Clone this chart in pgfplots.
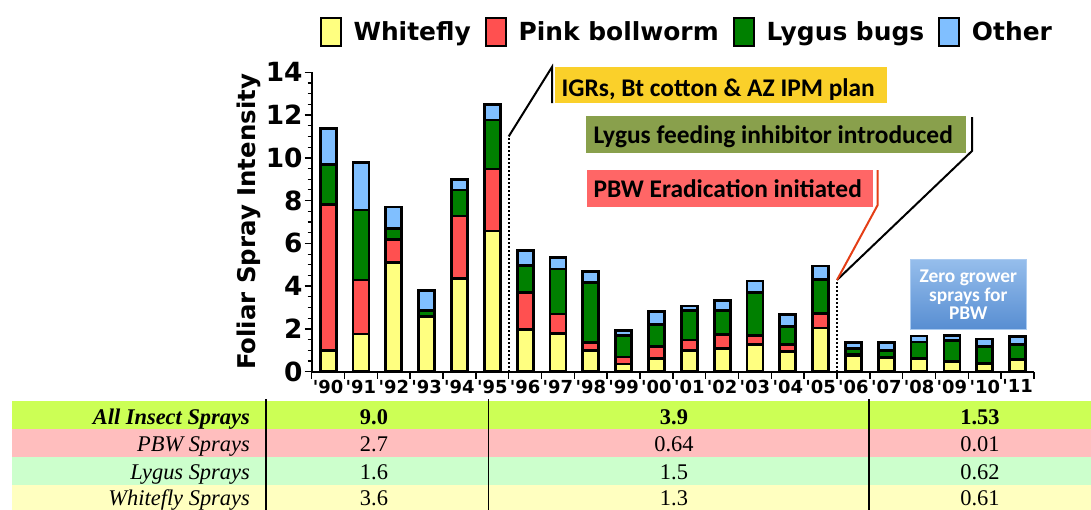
\documentclass[border=0pt]{standalone}
\usepackage{pgfplots}
\pgfplotsset{compat=1.18}
\usepackage{pgfplotstable}
\usepackage{fontspec}
\setmainfont{DejaVu Sans}
\newfontfamily\calfont{Carlito}
\newfontfamily\tmsfont{Liberation Serif}
\usetikzlibrary{shadings}

\definecolor{cWF}{RGB}{255,255,128}
\definecolor{cPB}{RGB}{255,80,80}
\definecolor{cLY}{RGB}{0,128,0}
\definecolor{cOT}{RGB}{128,191,255}
\definecolor{cIGR}{RGB}{250,208,42}
\definecolor{cLYB}{RGB}{137,160,76}
\definecolor{cPBB}{RGB}{255,102,102}
\definecolor{cRed}{RGB}{228,62,22}
\definecolor{cZtop}{RGB}{150,190,236}
\definecolor{cZbot}{RGB}{88,142,210}
\definecolor{cR1}{RGB}{204,255,85}
\definecolor{cR2}{RGB}{255,190,190}
\definecolor{cR3}{RGB}{204,255,204}
\definecolor{cR4}{RGB}{255,255,192}

\pgfplotstableread{
x Y R G O
0 0.98 6.82 1.90 1.68
1 1.76 2.53 3.27 2.22
2 5.10 1.10 0.50 1.00
3 2.56 0.02 0.30 0.91
4 4.37 2.91 1.22 0.50
5 6.58 2.90 2.29 0.73
6 1.97 1.74 1.24 0.72
7 1.78 0.92 2.10 0.53
8 1.01 0.36 2.79 0.52
9 0.36 0.33 1.01 0.22
10 0.62 0.56 1.02 0.60
11 1.01 0.47 1.39 0.20
12 1.08 0.67 1.10 0.48
13 1.29 0.42 1.98 0.55
14 0.94 0.34 0.82 0.56
15 2.04 0.67 1.61 0.62
16 0.75 0.04 0.30 0.27
17 0.67 0.02 0.31 0.36
18 0.59 0.01 0.79 0.28
19 0.49 0.01 0.95 0.23
20 0.39 0.01 0.77 0.36
21 0.55 0.01 0.72 0.36
}\data

\pgfplotsset{
  mylegend/.style={legend image code/.code={\draw[##1,line width=1.8bp] (0bp,-14bp) rectangle (20bp,14bp);}},
  mybar/.style={draw=black, line width=2.8bp, fill=#1, mylegend}
}

\begin{document}
\begin{tikzpicture}
\path[use as bounding box] (0bp,0bp) rectangle (1091bp,-510bp);
\begin{axis}[
  at={(311.7bp,-371.7bp)}, anchor=south west,
  scale only axis, width=722.3bp, height=299.4bp,
  xmin=-0.5, xmax=21.5, ymin=0, ymax=14,
  clip=false,
  axis x line=bottom, axis y line=left,
  axis line style={-, line width=1.8bp},
  every outer x axis line/.append style={-},
  every outer y axis line/.append style={-},
  ybar stacked, bar width=16bp,
  ytick={0,2,...,14}, minor y tick num=3,
  tick align=outside, major tick length=7bp, minor tick length=4bp,
  tick style={line width=1.4bp, black},
  minor tick style={line width=1.1bp, black},
  xtick={-0.5,0.5,...,21.5},
  x tick label as interval,
  xticklabels={\textquotesingle90,\textquotesingle91,\textquotesingle92,\textquotesingle93,\textquotesingle94,\textquotesingle95,\textquotesingle96,\textquotesingle97,\textquotesingle98,\textquotesingle99,\textquotesingle00,\textquotesingle01,\textquotesingle02,\textquotesingle03,\textquotesingle04,\textquotesingle05,\textquotesingle06,\textquotesingle07,\textquotesingle08,\textquotesingle09,\textquotesingle10,\textquotesingle11},
  xticklabel style={font=\fontsize{18}{18}\selectfont\bfseries, inner sep=1bp},
  yticklabel style={font=\fontsize{26.5}{26.5}\selectfont\bfseries, inner sep=2bp},
  /pgf/number format/assume math mode=true,
  ylabel={Foliar Spray Intensity},
  ylabel style={font=\fontsize{24.5}{24.5}\selectfont\bfseries, at={(axis description cs:-0.0868,0.5)}, anchor=center},
  legend style={at={(axis description cs:0.518,1.1346)}, anchor=center, draw=none, fill=none,
    font=\fontsize{25}{25}\selectfont\bfseries,
    nodes={inner sep=0pt},
    /tikz/every odd column/.append style={column sep=12bp},
    /tikz/every even column/.append style={column sep=14bp}},
  legend columns=4,
]
\addplot[mybar=cWF] table[x=x,y=Y]{\data};
\addplot[mybar=cPB] table[x=x,y=R]{\data};
\addplot[mybar=cLY] table[x=x,y=G]{\data};
\addplot[mybar=cOT] table[x=x,y=O]{\data};
\legend{Whitefly, Pink bollworm, Lygus bugs, Other}
\draw[black, line width=2bp, dash pattern=on 1.6bp off 2.4bp] (axis cs:5.5,0) -- (axis cs:5.5,11.0);
\coordinate (d1) at (axis cs:5.5,11.0);
\draw[black, line width=2bp, dash pattern=on 1.6bp off 2.4bp] (axis cs:15.5,0) -- (axis cs:15.5,4.29);
\coordinate (d2) at (axis cs:15.5,4.29);
\end{axis}

\begin{scope}[x=1bp,y=-1bp]
% leaders
\draw[black, line width=2bp] (d1) -- (552,67) -- (552,103);
\draw[black, line width=2bp] (d2) -- (972,151) -- (972,117);
\draw[cRed, line width=2bp] (d2) -- (877.7,205) -- (877.7,170);

% annotation boxes
\fill[cIGR] (555,67) rectangle (887,103.3);
\node[font=\calfont\bfseries\fontsize{25.5}{25.5}\selectfont, anchor=base west, inner sep=0pt] at (561.5,96) {IGRs, Bt cotton \& AZ IPM plan};
\fill[cLYB] (586,116) rectangle (966,152.7);
\node[font=\calfont\bfseries\fontsize{25.5}{25.5}\selectfont, anchor=base west, inner sep=0pt] at (593.3,143.3) {Lygus feeding inhibitor introduced};
\fill[cPBB] (587,170) rectangle (872.7,206.7);
\node[font=\calfont\bfseries\fontsize{25.5}{25.5}\selectfont, anchor=base west, inner sep=0pt] at (593.3,197.3) {PBW Eradication initiated};

\shade[top color=cZtop, bottom color=cZbot, draw=cZtop!80!white, line width=0.8bp] (910,259) rectangle (1026.7,329);
\node[font=\calfont\bfseries\fontsize{19.5}{19.5}\selectfont, text=white, anchor=base, inner sep=0pt] at (968.3,282.7) {Zero grower};
\node[font=\calfont\bfseries\fontsize{19.5}{19.5}\selectfont, text=white, anchor=base, inner sep=0pt] at (968.3,301) {sprays for};
\node[font=\calfont\bfseries\fontsize{19.5}{19.5}\selectfont, text=white, anchor=base, inner sep=0pt] at (968.3,319.3) {PBW};

% table
\fill[cR1] (12,401) rectangle (1091,429.3);
\fill[cR2] (12,429.3) rectangle (1091,457);
\fill[cR3] (12,457) rectangle (1091,485);
\fill[cR4] (12,485) rectangle (1091,510);
\foreach \xx in {265.7,488.5,868.8} {\draw[black, line width=1.8bp] (\xx,399) -- (\xx,510);}
\begin{scope}[every node/.style={inner sep=0pt, font=\tmsfont\fontsize{22.5}{22.5}\selectfont}]
\node[anchor=base east, font=\tmsfont\bfseries\itshape\fontsize{22.5}{22.5}\selectfont] at (250,424.3) {All Insect Sprays};
\node[anchor=base east, font=\tmsfont\itshape\fontsize{22.5}{22.5}\selectfont] at (250,451.7) {PBW Sprays};
\node[anchor=base east, font=\tmsfont\itshape\fontsize{22.5}{22.5}\selectfont] at (250,479.3) {Lygus Sprays};
\node[anchor=base east, font=\tmsfont\itshape\fontsize{22.5}{22.5}\selectfont] at (250,505) {Whitefly Sprays};
\node[anchor=base, font=\tmsfont\bfseries\fontsize{22.5}{22.5}\selectfont] at (374,424.3) {9.0};
\node[anchor=base, font=\tmsfont\bfseries\fontsize{22.5}{22.5}\selectfont] at (674,424.3) {3.9};
\node[anchor=base, font=\tmsfont\bfseries\fontsize{22.5}{22.5}\selectfont] at (980,424.3) {1.53};
\node[anchor=base] at (374,451.7) {2.7};
\node[anchor=base] at (674,451.7) {0.64};
\node[anchor=base] at (980,451.7) {0.01};
\node[anchor=base] at (374,479.3) {1.6};
\node[anchor=base] at (674,479.3) {1.5};
\node[anchor=base] at (980,479.3) {0.62};
\node[anchor=base] at (374,505) {3.6};
\node[anchor=base] at (674,505) {1.3};
\node[anchor=base] at (980,505) {0.61};
\end{scope}
\end{scope}
\end{tikzpicture}
\end{document}
